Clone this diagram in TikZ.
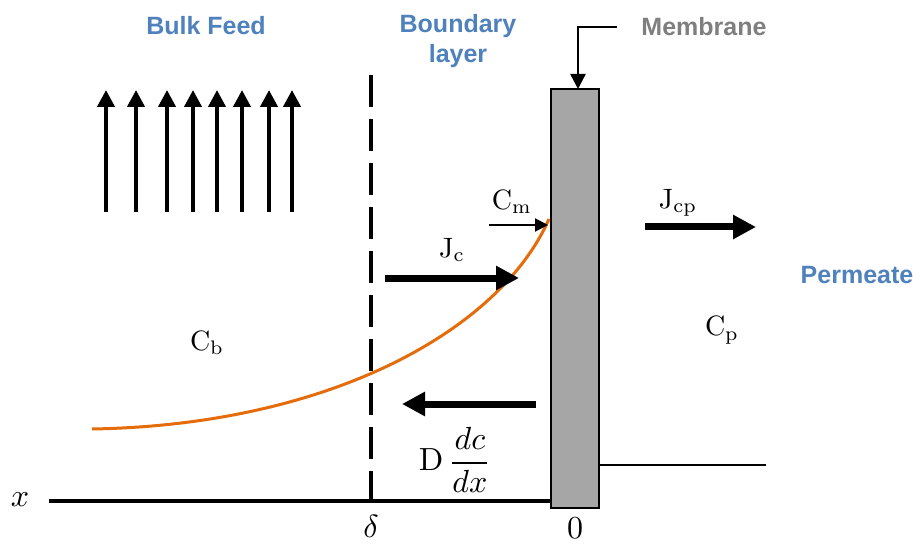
\documentclass[tikz,border=0pt]{standalone}
\usepackage{fontspec}
\setsansfont{Liberation Sans}
\usetikzlibrary{arrows.meta}
\definecolor{headblue}{RGB}{79,129,189}
\definecolor{headgray}{RGB}{127,127,127}
\definecolor{memfill}{RGB}{166,166,166}
\definecolor{curveorange}{RGB}{228,108,10}
\newcommand{\mlab}[1]{\scalebox{2.8}{#1}}
\newcommand{\mlabbig}[1]{\scalebox{3.2}{#1}}
\begin{document}
\begin{tikzpicture}[x=1pt,y=-1pt,
  heading/.style={font=\fontsize{25}{29}\selectfont\sffamily\bfseries, inner sep=0pt, align=center},
  mlabel/.style={font=\fontsize{10}{12}\selectfont, inner sep=0pt},
  feedarrow/.style={line width=4pt, -{Triangle[length=17pt,width=17pt]}},
  fluxarrow/.style={line width=7pt, -{Triangle[length=23pt,width=23pt]}},
  thinarrow/.style={line width=2pt, -{Triangle[length=13pt,width=13pt]}}]
\useasboundingbox (0,0) rectangle (920,545);
% headings
\node[heading, text=headblue] (bulk) at (206,26) {Bulk Feed};
\node[heading, text=headblue] (bl1) at (458,26) {Boundary};
\node[heading, text=headblue] (bl2) at (458,56) {layer};
\node[heading, text=headgray] (memlbl) at (704,27) {Membrane};
\node[heading, text=headblue] (perm) at (857,275) {Permeate};
% feed arrows
\foreach \x in {106,136,167,193,217,242,269,292}
  \draw[feedarrow] (\x,212) -- (\x,90);
% axes
\draw[line width=4.5pt] (49,501) -- (551,501);
\draw[line width=2.5pt] (599,465) -- (766,465);
% dashed boundary
\draw[line width=4pt, dash pattern=on 32pt off 12pt] (371,75) -- (371,501);
% membrane
\node[draw, fill=memfill, line width=1.5pt, minimum width=48pt, minimum height=419pt, inner sep=0pt] (mem) at (575,298.5) {};
% membrane pointer
\coordinate (ptstart) at (617,27);
\coordinate (pttip) at (578,89);
\draw[line width=2.5pt, -{Triangle[length=15pt,width=15pt]}] (ptstart) -| (pttip);
% concentration curve
\coordinate (cvA) at (92,429);
\coordinate (cvB) at (549,219);
\draw[curveorange, line width=3pt] (cvA) .. controls (330,425) and (500,330) .. (cvB);
% arrows
\coordinate (cmA) at (489,225); \coordinate (cmB) at (548,225);
\draw[thinarrow] (cmA) -- (cmB);
\coordinate (jcA) at (385,278); \coordinate (jcB) at (519,278);
\draw[fluxarrow] (jcA) -- (jcB);
\coordinate (dA) at (536,404); \coordinate (dB) at (402,404);
\draw[fluxarrow] (dA) -- (dB);
\coordinate (jpA) at (645,227); \coordinate (jpB) at (756,227);
\draw[fluxarrow] (jpA) -- (jpB);
% math labels
\node[mlabel] (cm) at (512,202) {\mlab{$\mathrm{C}_{\mathrm{m}}$}};
\node[mlabel] (jc) at (452,250) {\mlab{$\mathrm{J}_{\mathrm{c}}$}};
\node[mlabel] (jcp) at (678,203) {\mlab{$\mathrm{J}_{\mathrm{cp}}$}};
\node[mlabel] (cb) at (207,343) {\mlab{$\mathrm{C}_{\mathrm{b}}$}};
\node[mlabel] (cp) at (722,330) {\mlab{$\mathrm{C}_{\mathrm{p}}$}};
\node[mlabel] (dcdx) at (455,460) {\mlabbig{$\mathrm{D}\,\displaystyle\frac{dc}{dx}$}};
\node[mlabel] (xlbl) at (20,500) {\mlabbig{$x$}};
\node[mlabel] (delta) at (371,526) {\mlabbig{$\delta$}};
\node[mlabel] (zero) at (575,528) {\mlabbig{$0$}};
\end{tikzpicture}
\end{document}
